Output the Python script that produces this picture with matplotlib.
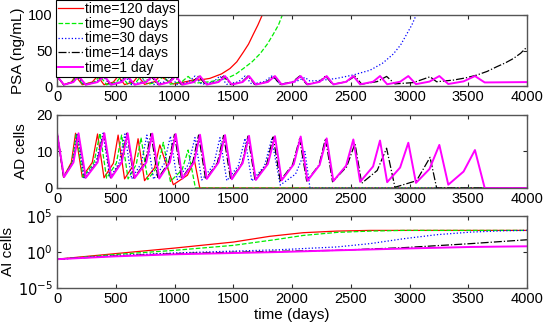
import numpy as np
import matplotlib
matplotlib.use("Agg")
import matplotlib.pyplot as plt
from matplotlib.ticker import NullLocator

plt.rcParams['font.family'] = ['Liberation Sans', 'DejaVu Sans']

labels = ["time=120 days", "time=90 days", "time=30 days", "time=14 days", "time=1 day"]
colors = ["#ff0000", "#00ee00", "#0000ff", "#000000", "#ff00ff"]
styles = ["-", "--", ":", "-.", "-"]
widths = [0.9, 0.9, 0.9, 0.9, 1.4]

x_ticks = [0, 500, 1000, 1500, 2000, 2500, 3000, 3500, 4000]

# PSA (ng/mL) keypoints: (day, value)
psa_120 = [(0, 14), (55, 1.8), (122, 5.5), (158, 14), (215, 1.8), (300, 5.5), (345, 14),
           (400, 1.8), (480, 5.5), (520, 14), (575, 2.0), (650, 5.8), (690, 14),
           (745, 2.3), (830, 6.0), (875, 14), (990, 2.8), (1110, 6.5), (1170, 9.0),
           (1215, 8.5), (1300, 10.7), (1400, 17), (1472, 24.6), (1530, 34), (1586, 47.7),
           (1630, 59), (1671, 73), (1710, 86), (1755, 103)]
psa_90 = [(0, 14), (57, 1.8), (128, 5.5), (165, 14), (222, 1.8), (315, 5.5), (366, 14),
          (422, 1.8), (505, 5.5), (550, 14), (605, 2.0), (675, 5.8), (715, 14),
          (772, 2.2), (860, 6.0), (905, 14), (965, 2.5), (1065, 6.3), (1116, 13.5),
          (1178, 4.0), (1300, 6.0), (1444, 10.7), (1520, 16.5), (1586, 24.6), (1660, 34),
          (1728, 45.4), (1790, 59), (1841, 73), (1885, 86), (1925, 103)]
psa_30 = [(0, 14), (57, 1.8), (132, 5.5), (172, 14), (230, 1.8), (330, 5.5), (392, 14),
          (450, 1.8), (530, 5.5), (578, 14), (635, 1.9), (718, 5.6), (765, 14),
          (822, 2.0), (912, 5.7), (965, 14), (1022, 2.1), (1120, 5.8), (1174, 14),
          (1232, 2.2), (1333, 5.9), (1387, 14), (1445, 2.3), (1545, 6.0), (1600, 14),
          (1658, 2.5), (1765, 6.2), (1827, 14), (1900, 2.8), (2030, 6.0), (2110, 12),
          (2153, 7.0), (2250, 8.0), (2380, 10.7), (2520, 15.5), (2664, 22.2), (2770, 32),
          (2862, 45), (2925, 58), (2976, 73), (3020, 86), (3065, 103)]
psa_14 = [(0, 14), (58, 1.8), (138, 5.5), (180, 14), (240, 1.8), (340, 5.5), (398, 14),
          (457, 1.8), (545, 5.5), (595, 14), (655, 1.8), (750, 5.5), (800, 14),
          (860, 1.9), (950, 5.5), (1000, 14), (1060, 1.9), (1155, 5.6), (1205, 14),
          (1265, 2.0), (1365, 5.6), (1418, 14), (1478, 2.0), (1575, 5.7), (1625, 14),
          (1685, 2.1), (1785, 5.7), (1840, 14), (1900, 2.2), (2005, 5.8), (2065, 14),
          (2125, 2.3), (2230, 5.9), (2285, 14), (2345, 2.4), (2465, 6.0), (2536, 14),
          (2593, 2.6), (2725, 6.2), (2805, 13.5), (2876, 3.0), (3033, 4.8), (3175, 13),
          (3231, 6.0), (3373, 8.3), (3480, 11.5), (3571, 15.3), (3660, 20.5), (3741, 27),
          (3815, 32.5), (3883, 38.6), (3945, 46), (4000, 55)]
psa_1 = [(0, 14), (60, 1.8), (140, 5.5), (183, 14), (245, 1.8), (345, 5.5), (403, 14),
         (462, 1.8), (550, 5.5), (601, 14), (660, 1.8), (760, 5.5), (811, 14),
         (870, 1.8), (960, 5.5), (1010, 14), (1068, 1.9), (1165, 5.5), (1217, 14),
         (1275, 1.9), (1375, 5.6), (1430, 14), (1488, 2.0), (1580, 5.6), (1634, 14),
         (1692, 2.0), (1795, 5.7), (1855, 14), (1912, 2.1), (2015, 5.7), (2074, 14),
         (2132, 2.1), (2235, 5.8), (2295, 14), (2352, 2.2), (2460, 5.9), (2522, 14),
         (2580, 2.3), (2690, 6.0), (2749, 14), (2810, 2.4), (2920, 6.0), (2990, 14),
         (3055, 2.6), (3170, 6.2), (3254, 14), (3330, 2.8), (3460, 6.5), (3557, 14),
         (3640, 5.0), (4000, 5.5)]

# AD cells keypoints: (day, value)
ad_120 = [(0, 15.2), (55, 3.0), (122, 7), (158, 15.0), (215, 3.0), (300, 7), (345, 14.8),
          (400, 2.8), (480, 6.8), (520, 14.5), (575, 2.5), (650, 6.2), (690, 13.5),
          (745, 2.0), (830, 5.5), (875, 11.8), (990, 0.9), (1110, 3.5), (1170, 7.5),
          (1215, 0.0), (4000, 0.0)]
ad_90 = [(0, 15.2), (57, 3.0), (128, 7), (165, 15.0), (222, 2.9), (315, 7), (366, 15.0),
         (422, 2.7), (505, 6.8), (550, 14.5), (605, 2.5), (675, 6.5), (715, 13.8),
         (772, 2.3), (860, 6.0), (905, 12.5), (965, 1.8), (1065, 5.0), (1116, 10.4),
         (1178, 0.0), (4000, 0.0)]
ad_30 = [(0, 15.2), (57, 3.0), (132, 7), (172, 15.0), (230, 2.8), (330, 7), (392, 15.0),
         (450, 2.7), (530, 7), (578, 14.8), (635, 2.5), (718, 6.8), (765, 14.5),
         (822, 2.4), (912, 6.6), (965, 14.2), (1022, 2.3), (1120, 6.5), (1174, 13.8),
         (1232, 2.2), (1333, 6.3), (1387, 13.8), (1445, 2.0), (1545, 6.2), (1600, 13.6),
         (1658, 1.9), (1765, 6.0), (1827, 13.4), (1900, 0.8), (2030, 3.8), (2110, 10.0),
         (2153, 0.0), (4000, 0.0)]
ad_14 = [(0, 15.2), (58, 3.0), (138, 7), (180, 15.0), (240, 2.8), (340, 7), (398, 15.0),
         (457, 2.8), (545, 7), (595, 15.0), (655, 2.7), (750, 7), (800, 14.9),
         (860, 2.6), (950, 7), (1000, 14.7), (1060, 2.5), (1155, 7), (1205, 14.5),
         (1265, 2.4), (1365, 6.9), (1418, 14.4), (1478, 2.3), (1575, 6.8), (1625, 14.2),
         (1685, 2.2), (1785, 6.6), (1840, 14.0), (1900, 2.0), (2005, 6.4), (2065, 13.5),
         (2125, 1.9), (2230, 6.3), (2285, 13.6), (2345, 1.7), (2465, 5.8), (2536, 12.2),
         (2593, 1.3), (2725, 4.8), (2805, 10.9), (2876, 0.2), (3060, 2.0), (3175, 8.4),
         (3231, 0.0), (4000, 0.0)]
ad_1 = [(0, 15.2), (60, 3.0), (140, 7), (183, 15.0), (245, 2.8), (345, 7), (403, 15.0),
        (462, 2.8), (550, 7), (601, 15.0), (660, 2.7), (760, 7), (811, 14.9),
        (870, 2.6), (960, 7), (1010, 14.8), (1068, 2.6), (1165, 7), (1217, 14.6),
        (1275, 2.5), (1375, 7), (1430, 14.5), (1488, 2.4), (1580, 6.8), (1634, 14.3),
        (1692, 2.2), (1795, 6.6), (1855, 14.2), (1912, 2.1), (2015, 6.5), (2074, 14.1),
        (2132, 2.0), (2235, 6.3), (2295, 13.6), (2352, 1.9), (2460, 6.1), (2522, 13.3),
        (2580, 1.7), (2690, 5.9), (2749, 13.0), (2810, 1.6), (2920, 5.6), (2990, 12.4),
        (3055, 1.4), (3170, 5.2), (3254, 11.8), (3330, 0.9), (3460, 4.5), (3557, 10.4),
        (3640, 0.0), (4000, 0.0)]

# AI cells keypoints (log axis): (day, value)
ai_120 = [(0, 0.1), (500, 0.6), (1000, 3.5), (1500, 24), (1810, 150), (2096, 480),
          (2380, 800), (2664, 1000), (4000, 1000)]
ai_90 = [(0, 0.1), (500, 0.45), (1000, 1.7), (1500, 8.3), (1850, 50), (2096, 200),
         (2380, 525), (2664, 800), (2950, 1000), (4000, 1000)]
ai_30 = [(0, 0.1), (500, 0.32), (1000, 0.74), (1900, 2.1), (2096, 3.0), (2380, 5.0),
         (2664, 14.5), (2950, 70), (3230, 250), (3520, 575), (3800, 890), (4000, 1000)]
ai_14 = [(0, 0.1), (500, 0.28), (1000, 0.6), (1900, 1.26), (2380, 1.7), (2950, 4.0),
         (3520, 14.5), (4000, 50)]
ai_1 = [(0, 0.1), (500, 0.25), (1000, 0.48), (1900, 1.0), (2380, 1.7), (2950, 3.0),
        (3520, 5.0), (4000, 6.2)]

psa_series = [psa_120, psa_90, psa_30, psa_14, psa_1]
ad_series = [ad_120, ad_90, ad_30, ad_14, ad_1]
ai_series = [ai_120, ai_90, ai_30, ai_14, ai_1]

W, H = 545, 323
fig = plt.figure(figsize=(W / 100, H / 100), dpi=100)

def panel(top, bottom):
    return fig.add_axes([57 / W, 1 - bottom / H, 470 / W, (bottom - top) / H])

ax1 = panel(15, 86)
ax2 = panel(115, 188)
ax3 = panel(216, 288)

for ax, series in zip([ax1, ax2, ax3], [psa_series, ad_series, ai_series]):
    for pts, lab, c, ls, lw in zip(series, labels, colors, styles, widths):
        t, v = zip(*pts)
        ax.plot(t, v, color=c, linestyle=ls, linewidth=lw, label=lab)

ax1.set_ylim(0, 100)
ax1.set_yticks([0, 50, 100])
ax1.set_ylabel("PSA (ng/mL)", fontsize=11, labelpad=2)

ax2.set_ylim(0, 20)
ax2.set_yticks([0, 10, 20])
ax2.set_ylabel("AD cells", fontsize=11, labelpad=6)

ax3.set_yscale("log")
ax3.set_ylim(1e-5, 1e5)
ax3.set_yticks([1e-5, 1e0, 1e5])
ax3.set_yticklabels(["$10^{-5}$", "$10^{0}$", "$10^{5}$"])
ax3.yaxis.set_minor_locator(NullLocator())
ax3.set_ylabel("AI cells", fontsize=11, labelpad=2)
ax3.set_xlabel("time (days)", fontsize=11, labelpad=1)

for ax in [ax1, ax2, ax3]:
    ax.set_xlim(0, 4000)
    ax.set_xticks(x_ticks)
    ax.tick_params(direction="in", top=True, right=True, labelsize=10.5,
                   length=3, width=0.8, color="#262626", pad=3)
    for s in ax.spines.values():
        s.set_color("#555555")
        s.set_linewidth(1.0)

leg = ax1.legend(loc="upper left", bbox_to_anchor=(56 / W, 1.0), bbox_transform=fig.transFigure,
                 fontsize=10, handlelength=1.8, handletextpad=0.15, labelspacing=0.05,
                 borderpad=0.15, borderaxespad=0, fancybox=False, framealpha=1,
                 edgecolor="black")
leg.get_frame().set_linewidth(0.8)

fig.savefig("out.png", dpi=100)
